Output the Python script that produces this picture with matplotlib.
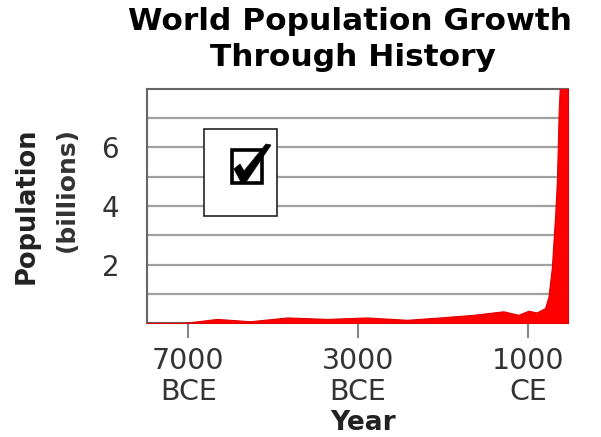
# World population growth chart with checkbox overlay
import matplotlib
matplotlib.use("Agg")
import matplotlib.pyplot as plt
from matplotlib.patches import Rectangle, Polygon

# Data (year, population in billions)
years = [-7970, -7110, -6320, -5540, -4670, -3730, -2790, -1850, -1070, -290,
         420, 770, 1010, 1200, 1400, 1480, 1560, 1640, 1680, 1720, 1760, 1940]
population = [0.0, 0.0, 0.14, 0.06, 0.19, 0.14, 0.19, 0.11, 0.19, 0.28,
              0.40, 0.28, 0.42, 0.36, 0.51, 0.9, 1.9, 3.75, 4.9, 7.2, 8.5, 8.5]
tick_years = [-7000, -3000, 1000]
tick_labels = ["7000\nBCE", "3000\nBCE", "1000\nCE"]
y_ticks = [2, 4, 6]
grid_levels = [1, 2, 3, 4, 5, 6, 7]

W, H = 601, 437


def px(x, y):
    # pixel position -> figure fraction
    return x / W, 1 - y / H


fig = plt.figure(figsize=(W / 100, H / 100), dpi=100)
ax = fig.add_axes([147 / W, 1 - 323 / H, (568 - 147) / W, (323 - 89) / H])

# Red area
ax.fill_between(years, population, 0, color="#ff0000", edgecolor="#e00000",
                linewidth=0.8, zorder=3)

ax.set_xlim(-7970, 1940)
ax.set_ylim(0, 8)

# Grid lines every billion
for g in grid_levels:
    ax.axhline(g, color="#a0a0a0", linewidth=1.6, zorder=1)
ax.set_yticks(y_ticks)
ax.set_yticklabels([str(v) for v in y_ticks])
ax.tick_params(axis="y", length=0, pad=20, labelsize=20, labelcolor="#333333")

ax.set_xticks(tick_years)
ax.set_xticklabels(tick_labels, linespacing=1.15)
ax.tick_params(axis="x", length=11, width=1.5, color="#888888", pad=6,
               labelsize=20.5, labelcolor="#333333")

for s in ax.spines.values():
    s.set_color("#666666")
    s.set_linewidth(1.5)

# Titles and axis labels
fig.text(*px(350, 22), "World Population Growth", ha="center", va="center",
         fontsize=22.5, fontweight="bold")
fig.text(*px(353, 58), "Through History", ha="center", va="center",
         fontsize=22.5, fontweight="bold")
fig.text(*px(363, 430), "Year", ha="center", va="baseline",
         fontsize=19, fontweight="bold", color="#222222")
fig.text(*px(27, 127), "Population", rotation=90, ha="center", va="top",
         fontsize=18.5, fontweight="bold", color="#222222")
fig.text(*px(67, 127), "(billions)", rotation=90, ha="center", va="top",
         fontsize=18, fontweight="bold", color="#333333")

# Checkbox overlay
x0, y0 = px(204, 216)
x1, y1 = px(277, 129)
fig.add_artist(Rectangle((x0, y0), x1 - x0, y1 - y0, transform=fig.transFigure,
                         facecolor="white", edgecolor="#222222", linewidth=1.2,
                         zorder=5))
bx0, by0 = px(231.5, 183.5)
bx1, by1 = px(261.5, 149.5)
fig.add_artist(Rectangle((bx0, by0), bx1 - bx0, by1 - by0, transform=fig.transFigure,
                         facecolor="white", edgecolor="black", linewidth=2.6,
                         zorder=6))
check = [px(234, 169), px(240, 164), px(244, 171), px(266, 144), px(271, 145),
         px(246, 182), px(241, 182)]
fig.add_artist(Polygon(check, closed=True, transform=fig.transFigure,
                       facecolor="black", edgecolor="black", linewidth=0.5,
                       zorder=7))

fig.savefig("out.png", dpi=100)
